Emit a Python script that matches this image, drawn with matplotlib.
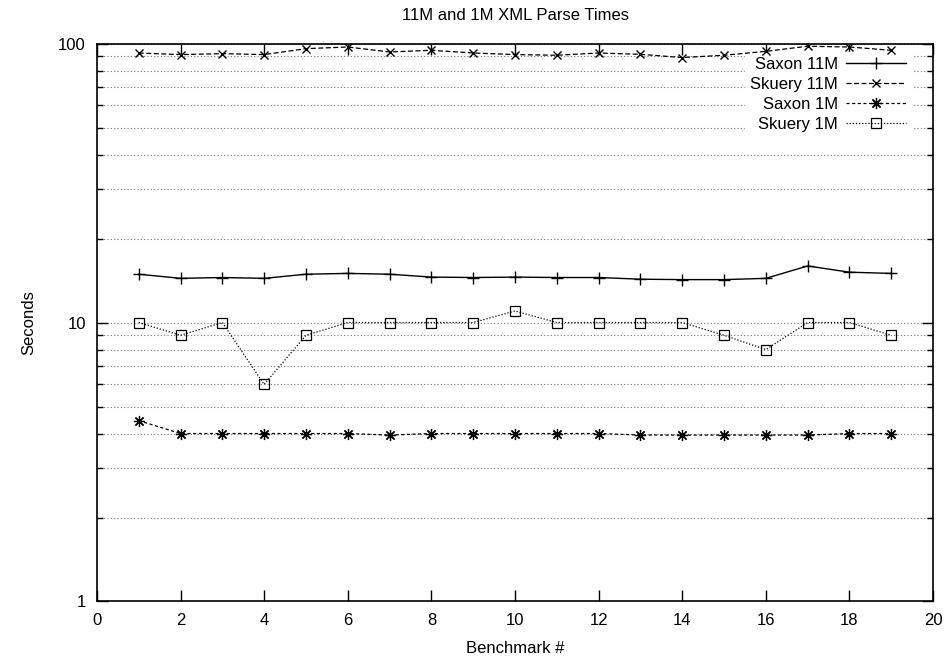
#!/usr/bin/env python3
"""11M and 1M XML parse times, gnuplot-style log plot."""

import matplotlib
matplotlib.use("Agg")
import matplotlib.pyplot as plt
import matplotlib.ticker as ticker

plt.rcParams['font.family'] = ['Liberation Sans', 'DejaVu Sans']

benchmarks = list(range(1, 20))

saxon_11m = [14.9, 14.4, 14.5, 14.4, 14.9, 15.0, 14.9, 14.55, 14.5, 14.55,
             14.5, 14.5, 14.3, 14.25, 14.25, 14.4, 15.95, 15.15, 15.0]
skuery_11m = [92.5, 91.3, 92.0, 91.3, 95.9, 97.2, 93.3, 94.6, 92.5, 91.3,
              90.8, 92.5, 91.5, 89.1, 90.8, 93.8, 97.8, 97.2, 94.6]
saxon_1m = [4.45, 4.0, 4.0, 4.0, 4.0, 4.0, 3.95, 4.0, 4.0, 4.0,
            4.0, 4.0, 3.95, 3.95, 3.95, 3.95, 3.95, 4.0, 4.0]
skuery_1m = [10, 9, 10, 6, 9, 10, 10, 10, 10, 11,
             10, 10, 10, 10, 9, 8, 10, 10, 9]

labels = ['Saxon 11M', 'Skuery 11M', 'Saxon 1M', 'Skuery 1M']


def main():
    fig = plt.figure(figsize=(9.46, 6.62), dpi=100)
    ax = fig.add_axes([0.1025, 0.0914, 0.8838, 0.8428])

    ax.plot(benchmarks, saxon_11m, color='black', linewidth=1.0,
            marker='+', markersize=9, markeredgewidth=1.0, label=labels[0])
    ax.plot(benchmarks, skuery_11m, color='black', linewidth=0.9,
            linestyle=(0, (4, 2)), marker='x', markersize=6,
            markeredgewidth=1.0, label=labels[1])
    ax.plot(benchmarks, saxon_1m, color='black', linewidth=0.9,
            linestyle=(0, (2.5, 2)), marker=(8, 2, 0), markersize=8,
            markeredgewidth=0.9, label=labels[2])
    ax.plot(benchmarks, skuery_1m, color='black', linewidth=0.9,
            linestyle=(0, (1, 1.5)), marker='s', markersize=7,
            markerfacecolor='none', markeredgewidth=0.9, label=labels[3])

    ax.set_yscale('log')
    ax.set_xlim(0, 20)
    ax.set_ylim(1, 100)
    ax.xaxis.set_major_locator(ticker.MultipleLocator(2))
    ax.yaxis.set_major_locator(ticker.LogLocator(base=10))
    ax.yaxis.set_minor_locator(ticker.LogLocator(base=10, subs=range(2, 10)))
    ax.yaxis.set_major_formatter(ticker.FuncFormatter(lambda v, p: f'{v:g}'))
    ax.yaxis.set_minor_formatter(ticker.NullFormatter())

    ax.tick_params(which='both', direction='in', top=True, right=True,
                   labelsize=12, width=1.0, pad=8)
    ax.tick_params(which='major', length=8)
    ax.tick_params(which='minor', length=4)
    for s in ax.spines.values():
        s.set_linewidth(1.2)

    ax.set_axisbelow(True)
    ax.grid(True, which='both', axis='y', color='0.45', linestyle=(0, (1, 2)),
            linewidth=0.8)

    ax.set_title('11M and 1M XML Parse Times', fontsize=12, pad=17)
    ax.set_xlabel('Benchmark #', fontsize=12, labelpad=10)
    ax.set_ylabel('Seconds', fontsize=12, labelpad=16)

    leg = ax.legend(loc='upper right', bbox_to_anchor=(0.9737, 0.9857),
                    markerfirst=False, fontsize=12,
                    handlelength=3.6, handletextpad=0.5, labelspacing=0.3,
                    borderaxespad=0.0, frameon=True, fancybox=False,
                    facecolor='white', edgecolor='white', framealpha=1.0,
                    borderpad=0.3)
    leg.set_zorder(1)

    plt.savefig('out.png', dpi=100)


if __name__ == "__main__":
    main()
